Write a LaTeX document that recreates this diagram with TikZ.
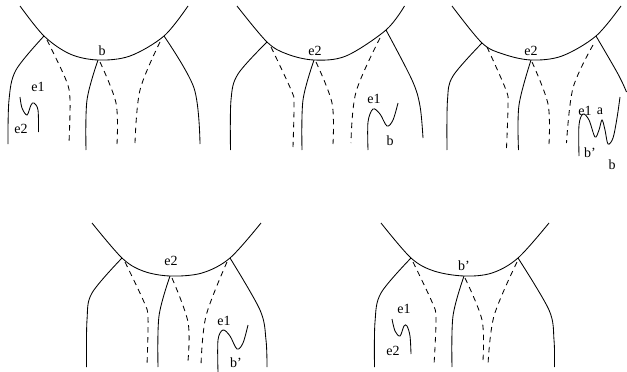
\documentclass[tikz,border=0pt]{standalone}
\usepackage{fontspec}
\setmainfont{Liberation Serif}
\tikzset{
  solidline/.style={line width=0.85pt,black,smooth,tension=0.55},
  dashline/.style={line width=0.85pt,black,dash pattern=on 5.5pt off 4.5pt,smooth,tension=0.55},
  lab/.style={inner sep=0pt,font=\fontsize{14}{16}\selectfont,text=black}
}
\begin{document}
\begin{tikzpicture}[x=1pt,y=-1pt]
\useasboundingbox (0,0) rectangle (627,372);
% panel 1
\draw[solidline] plot coordinates {(20,6) (44,36) (70,54) (98,60) (130,56) (164,36) (188,6)};
\draw[solidline] plot coordinates {(44,36) (16,70) (9,100) (8,144)};
\draw[solidline] plot coordinates {(98,60) (87,100) (86,150)};
\draw[solidline] plot coordinates {(164,36) (194,88) (200,144)};
\draw[dashline] plot coordinates {(47,40) (66,80) (70,100) (69,143)};
\draw[dashline] plot coordinates {(100,62) (116,103) (117,144)};
\draw[dashline] plot coordinates {(160,42) (140,90) (135,143)};
\draw[solidline] plot coordinates {(20,97) (22,108) (27,115) (31,105) (34,103) (38,110) (38.5,132)};
\node[lab] (p1b) at (102,51) {b};
\node[lab] (p1e1) at (38,87) {e1};
\node[lab] (p1e2) at (21,129) {e2};
% panel 2
\draw[solidline] plot coordinates {(237,6) (267,42) (287,54) (314,60) (346,56) (386,30) (404.5,6)};
\draw[solidline] plot coordinates {(267,42) (238,74) (231,100) (230.5,150)};
\draw[solidline] plot coordinates {(314,60) (303,100) (302,150)};
\draw[solidline] plot coordinates {(386,30) (412,80) (420,106) (423,138)};
\draw[dashline] plot coordinates {(271,47) (292,92) (294,105) (293,147)};
\draw[dashline] plot coordinates {(316,62) (332,103) (333,144)};
\draw[dashline] plot coordinates {(380,38) (356,92) (351,143)};
\draw[solidline] plot coordinates {(368,150) (368,122) (373,109) (380,114) (387,126) (393,120) (398,103)};
\node[lab] (p2e2) at (315,51) {e2};
\node[lab] (p2e1) at (374,99) {e1};
\node[lab] (p2b) at (390,141) {b};
% panel 3
\draw[solidline] plot coordinates {(452,6) (482,43) (503,54) (531,60) (562,56) (596,36) (621,6)};
\draw[solidline] plot coordinates {(482,43) (453,76) (447.5,100) (447,150)};
\draw[solidline] plot coordinates {(531,60) (519,105) (518.5,150)};
\draw[solidline] plot coordinates {(596,36) (618,74) (626.5,92)};
\draw[dashline] plot coordinates {(487,47) (506,90) (508,105) (506.5,148)};
\draw[dashline] plot coordinates {(532,62) (548,104) (549,144)};
\draw[dashline] plot coordinates {(593,45) (573,88) (566.5,143)};
\draw[solidline] plot coordinates {(579,156) (579,125) (583,114) (589,120) (595,137) (599,130) (602,120) (605,130) (608,144) (613,138) (617,118) (620,97)};
\node[lab] (p3e2) at (531,51) {e2};
\node[lab] (p3e1) at (585,111) {e1};
\node[lab] (p3a) at (600,111) {a};
\node[lab] (p3bp) at (590,153) {b'};
\node[lab] (p3b) at (612,165) {b};
% panel 4
\draw[solidline] plot coordinates {(92,223) (122,258) (143,271) (170,276) (202,273) (230,258) (261,223)};
\draw[solidline] plot coordinates {(122,258) (92,293) (87,320) (86.5,367)};
\draw[solidline] plot coordinates {(170,276) (159,316) (158,367)};
\draw[solidline] plot coordinates {(230,258) (260,310) (266,340) (267,367)};
\draw[dashline] plot coordinates {(125,262) (144,302) (148,318) (147,365)};
\draw[dashline] plot coordinates {(172,278) (188,322) (188,361)};
\draw[dashline] plot coordinates {(227,262) (206,316) (201,365)};
\draw[solidline] plot coordinates {(218,372) (218,340) (223,330) (230,336) (237,349) (243,343) (248,325)};
\node[lab] (p4e2) at (171,261) {e2};
\node[lab] (p4e1) at (224,321) {e1};
\node[lab] (p4bp) at (236,363) {b'};
% panel 5
\draw[solidline] plot coordinates {(381,223) (411,258) (434,271) (464,276) (492,273) (518,258) (549,223)};
\draw[solidline] plot coordinates {(411,258) (381,293) (375,322) (374.5,367)};
\draw[solidline] plot coordinates {(464,276) (453,316) (452,367)};
\draw[solidline] plot coordinates {(518,258) (549,310) (554,340) (554.5,367)};
\draw[dashline] plot coordinates {(413,262) (432,302) (436,318) (434,365)};
\draw[dashline] plot coordinates {(465,278) (482,320) (483,360)};
\draw[dashline] plot coordinates {(517,262) (494,316) (488,365)};
\draw[solidline] plot coordinates {(392,319) (395,331) (400,336) (404,326) (407,326) (410,336) (411,354)};
\node[lab] (p5bp) at (464,266) {b'};
\node[lab] (p5e1) at (404,309) {e1};
\node[lab] (p5e2) at (393,351) {e2};
\end{tikzpicture}
\end{document}
